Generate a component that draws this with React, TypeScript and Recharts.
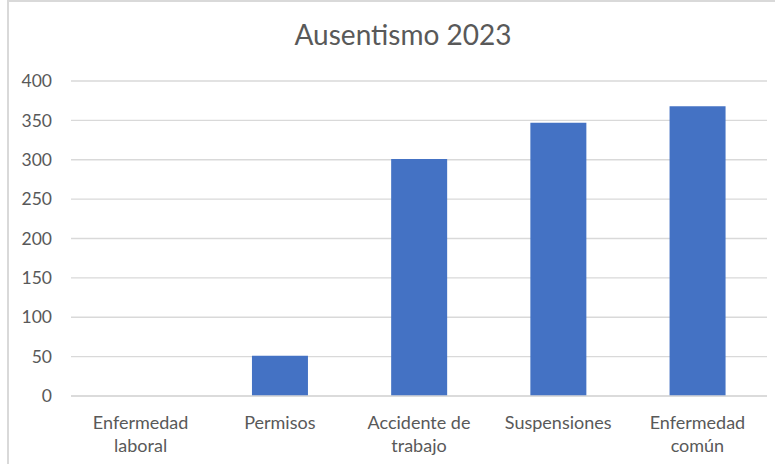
import { BarChart, Bar, XAxis, YAxis, CartesianGrid } from "recharts";

const categories = ["Enfermedad\nlaboral", "Permisos", "Accidente de\ntrabajo", "Suspensiones", "Enfermedad\ncomún"];
const values = [0, 51, 301, 347, 368];
const yTicks = [0, 50, 100, 150, 200, 250, 300, 350, 400];

const data = categories.map((name, i) => ({ name, value: values[i] }));

const FONT = "Lato, 'Open Sans', sans-serif";
const TEXT = "#595959";

function CategoryTick({ x, y, payload }: any) {
    const lines = String(payload.value).split("\n");
    return (
        <g transform={`translate(${x},${y})`}>
            {lines.map((line, i) => (
                <text key={i} x={0} y={25 + i * 23} textAnchor="middle" fill={TEXT} fontSize={18} fontFamily={FONT}>
                    {line}
                </text>
            ))}
        </g>
    );
}

export default function App() {
    return (
        <div style={{ position: "absolute", left: 0, top: 0, width: 775, height: 464, background: "#fff", overflow: "hidden" }}>
            {/* sheet / chart border */}
            <div style={{ position: "absolute", left: 7, top: 0, width: 820, height: 500, borderTop: "2px solid #d9d9d9", borderLeft: "2px solid #d9d9d9" }} />
            <div
                style={{
                    position: "absolute",
                    left: 0,
                    width: 806,
                    top: 17,
                    textAlign: "center",
                    fontFamily: FONT,
                    fontSize: 28,
                    color: TEXT,
                }}
            >
                Ausentismo 2023
            </div>
            <BarChart
                width={775}
                height={464}
                data={data}
                margin={{ top: 81, right: 8, bottom: 8, left: 11 }}
                barCategoryGap="30%"
                style={{ position: "absolute", left: 0, top: 0 }}
            >
                <CartesianGrid vertical={false} stroke="#d9d9d9" strokeWidth={1.3} />
                <XAxis
                    dataKey="name"
                    axisLine={{ stroke: "#d9d9d9", strokeWidth: 1.3 }}
                    tickLine={false}
                    tick={<CategoryTick />}
                    interval={0}
                    height={60}
                />
                <YAxis
                    domain={[0, 400]}
                    ticks={yTicks}
                    axisLine={false}
                    tickLine={false}
                    tickMargin={13}
                    width={60}
                    tick={{ fill: TEXT, fontSize: 17.5, fontFamily: FONT }}
                />
                <Bar dataKey="value" fill="#4472C4" isAnimationActive={false} />
            </BarChart>
        </div>
    );
}
